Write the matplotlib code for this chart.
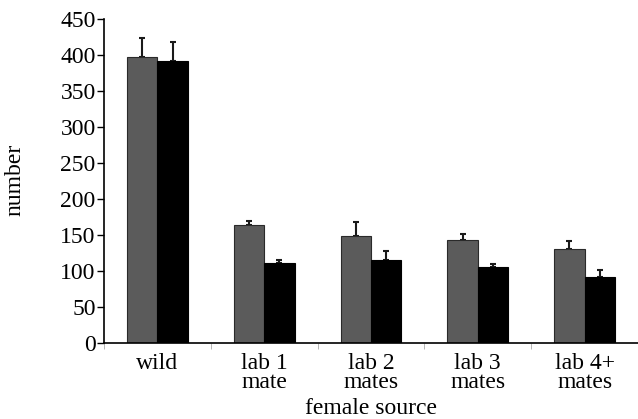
import numpy as np
import matplotlib
matplotlib.use("Agg")
import matplotlib.pyplot as plt

categories = ["wild", "lab 1\nmate", "lab 2\nmates", "lab 3\nmates", "lab 4+\nmates"]
grey_vals = [397, 164, 149, 143, 130]
grey_err = [26, 5, 19, 8, 12]
black_vals = [392, 111, 115, 105, 92]
black_err = [26, 5, 13, 5, 9]


def main():
    plt.rcParams['font.family'] = ['Liberation Serif', 'DejaVu Serif']
    fs = 17
    fig = plt.figure(figsize=(6.38, 4.19), dpi=100)
    ax = fig.add_axes([0.163, 0.181, 0.837, 0.774])

    x = np.arange(len(categories))
    w = 0.285

    ax.bar(x - w / 2, grey_vals, w, color="#5b5b5b", edgecolor="#2a2a2a", linewidth=0.8, zorder=2)
    ax.bar(x + w / 2, black_vals, w, color="black", edgecolor="black", linewidth=0.8, zorder=2)

    ax.errorbar(x - w / 2, grey_vals, yerr=[np.zeros(len(x)), grey_err], fmt="none",
                ecolor="#1a1a1a", elinewidth=1.5, capsize=2.3, capthick=1.5, zorder=1)
    ax.errorbar(x + w / 2, black_vals, yerr=[np.zeros(len(x)), black_err], fmt="none",
                ecolor="#1a1a1a", elinewidth=1.5, capsize=2.3, capthick=1.5, zorder=1)

    ax.set_xlim(-0.5, 4.5)
    ax.set_ylim(0, 450)
    ax.set_yticks(np.arange(0, 451, 50))
    ax.set_xticks(x)
    ax.set_xticklabels(categories, fontsize=fs, linespacing=0.9)
    ax.set_xticks(np.arange(-0.5, 4.6, 1), minor=True)
    ax.tick_params(axis="x", which="major", length=0, pad=7)
    ax.tick_params(axis="x", which="minor", length=4, color="#aaaaaa")
    ax.tick_params(axis="y", labelsize=fs, length=5, width=1, pad=1)

    for s in ["top", "right"]:
        ax.spines[s].set_visible(False)
    ax.spines["left"].set_linewidth(1.2)
    ax.spines["bottom"].set_linewidth(1.2)

    ax.set_ylabel("number", fontsize=fs)
    ax.yaxis.set_label_coords(-0.148, 0.503)
    ax.set_xlabel("female source", fontsize=fs)
    ax.xaxis.set_label_coords(0.5, -0.168)

    fig.savefig("out.png", dpi=100)


if __name__ == '__main__':
    main()
